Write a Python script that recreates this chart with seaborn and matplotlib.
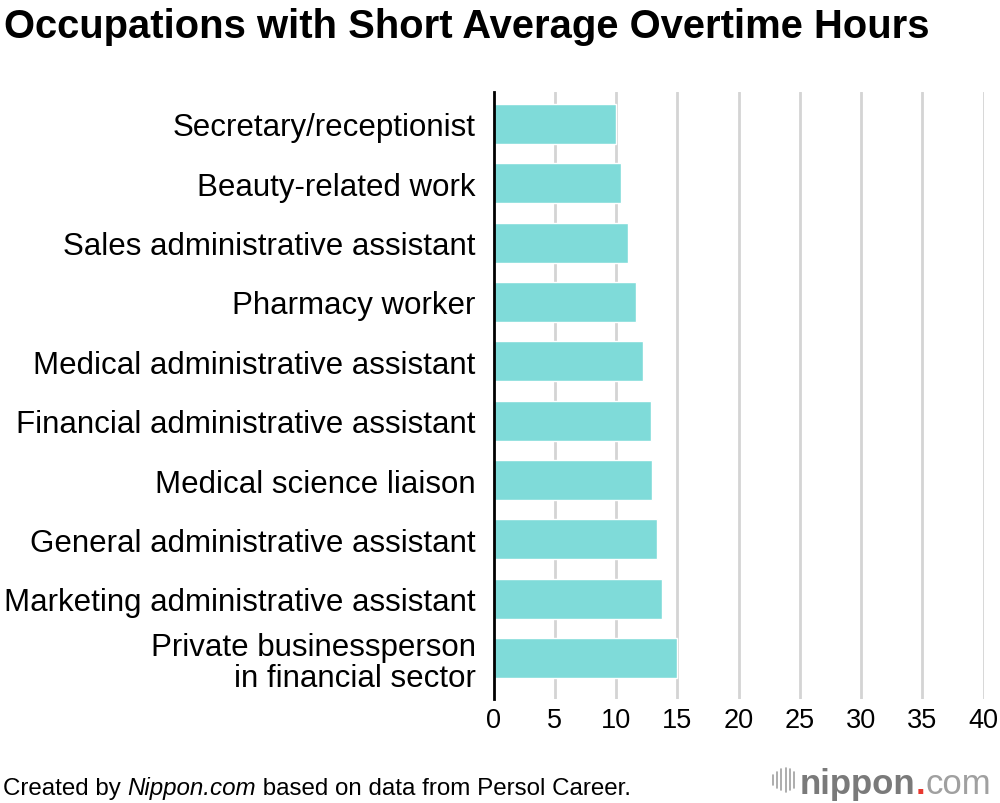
import matplotlib
matplotlib.use("Agg")
import matplotlib.pyplot as plt
import seaborn as sns
import pandas as pd

# Données
occupations = [
    "Secretary/receptionist",
    "Beauty-related work",
    "Sales administrative assistant",
    "Pharmacy worker",
    "Medical administrative assistant",
    "Financial administrative assistant",
    "Medical science liaison",
    "General administrative assistant",
    "Marketing administrative assistant",
    "Private businessperson\nin financial sector",
]
hours = [10.0, 10.4, 11.0, 11.6, 12.2, 12.8, 12.9, 13.3, 13.7, 15.0]
xticks = [0, 5, 10, 15, 20, 25, 30, 35, 40]

df = pd.DataFrame({"occupation": occupations, "hours": hours})

sns.set_theme(style="white")
plt.rcParams["font.family"] = ["Liberation Sans", "DejaVu Sans"]
plt.rcParams["text.color"] = "black"

fig = plt.figure(figsize=(10, 8.04), dpi=100)
ax = fig.add_axes([0.4937, 0.1294, 0.49, 0.755])

sns.barplot(data=df, x="hours", y="occupation", color="#7fdbd9",
            saturation=1, width=0.67, ax=ax, zorder=3)

ax.set_xlim(0, 40)
ax.set_ylim(9.69, -0.54)
ax.set_xticks(xticks)
ax.set_xticklabels([str(t) for t in xticks], fontsize=19.5)
ax.set_xlabel("")
ax.set_ylabel("")
ax.tick_params(axis="x", length=0, pad=6, colors="black")
ax.tick_params(axis="y", length=0, pad=13, labelsize=22.5, colors="black")
for lab in ax.get_yticklabels():
    lab.set_multialignment("right")
    lab.set_linespacing(1.08)

for t in xticks[1:]:
    ax.axvline(t, color="#d4d4d4", lw=2, zorder=1)

for s in ["top", "right", "bottom"]:
    ax.spines[s].set_visible(False)
ax.spines["left"].set_color("black")
ax.spines["left"].set_linewidth(2)
ax.spines["left"].set_zorder(4)

# Titre
fig.text(0.004, 0.967, "Occupations with Short Average Overtime Hours",
         fontsize=28.8, fontweight="bold", ha="left", va="center", color="black")

# Pied de page
t1 = fig.text(0.003, 0.005, "Created by ", fontsize=17.4, ha="left", va="bottom")
t2 = ax.annotate("Nippon.com", xy=(1, 0), xycoords=t1, fontsize=17.4,
                 style="italic", ha="left", va="bottom", annotation_clip=False)
ax.annotate(" based on data from Persol Career.", xy=(1, 0), xycoords=t2,
            fontsize=17.4, ha="left", va="bottom", annotation_clip=False)

# Logo nippon.com
l1 = fig.text(0.800, 0.004, "nippon", fontsize=25, fontweight="bold",
              color="#7a7a7a", ha="left", va="bottom")
l2 = ax.annotate(".", xy=(1, 0), xycoords=l1, fontsize=25, fontweight="bold",
                 color="#e8382f", ha="left", va="bottom", annotation_clip=False)
ax.annotate("com", xy=(1, 0), xycoords=l2, fontsize=25, color="#a0a0a0",
            ha="left", va="bottom", annotation_clip=False)
for i, h in enumerate([0.012, 0.020, 0.026, 0.030, 0.026, 0.020]):
    xx = 0.773 + i * 0.0042
    fig.add_artist(plt.Line2D([xx, xx], [0.029 - h / 2, 0.029 + h / 2],
                              color="#a0a0a0", lw=1.2, transform=fig.transFigure))

plt.savefig("out.png", dpi=100)
